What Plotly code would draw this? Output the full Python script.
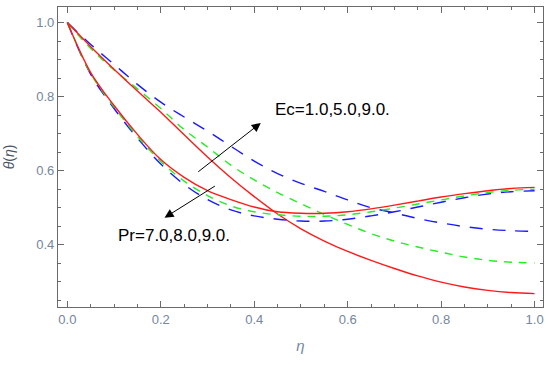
import plotly.graph_objects as go

eta = [0.0, 0.05, 0.1, 0.15, 0.2, 0.25, 0.3, 0.35, 0.4, 0.45, 0.5,
       0.55, 0.6, 0.65, 0.7, 0.75, 0.8, 0.85, 0.9, 0.95, 1.0]

# Group A (drop fast, minimum near 0.5, rise to ~0.55)
red_a = [1.0, 0.865, 0.776, 0.698, 0.630, 0.582, 0.546, 0.522, 0.502, 0.489, 0.485,
         0.485, 0.489, 0.497, 0.507, 0.518, 0.529, 0.538, 0.546, 0.552, 0.555]
green_a = [1.0, 0.862, 0.772, 0.693, 0.625, 0.572, 0.533, 0.505, 0.489, 0.481, 0.477,
           0.477, 0.481, 0.489, 0.499, 0.510, 0.521, 0.532, 0.541, 0.547, 0.550]
blue_a = [1.0, 0.860, 0.768, 0.688, 0.618, 0.563, 0.522, 0.494, 0.478, 0.469, 0.464,
          0.464, 0.469, 0.478, 0.489, 0.502, 0.515, 0.527, 0.537, 0.543, 0.546]

# Group B (slow decay, low end values)
red_b = [1.0, 0.935, 0.874, 0.815, 0.758, 0.697, 0.637, 0.581, 0.530, 0.483, 0.443,
         0.410, 0.382, 0.358, 0.336, 0.316, 0.299, 0.286, 0.277, 0.271, 0.268]
green_b = [1.0, 0.930, 0.872, 0.821, 0.768, 0.711, 0.664, 0.615, 0.575, 0.541, 0.511,
           0.482, 0.455, 0.430, 0.410, 0.394, 0.380, 0.367, 0.358, 0.353, 0.351]
blue_b = [1.0, 0.941, 0.887, 0.833, 0.785, 0.745, 0.707, 0.666, 0.626, 0.592, 0.566,
          0.544, 0.521, 0.500, 0.486, 0.471, 0.459, 0.449, 0.442, 0.438, 0.436]

RED, GREEN, BLUE = "#ff1a1a", "#22ee22", "#1a1aff"
blue_dash = "13px,10px"
green_dash = "8px,7px"

series = [
    (blue_b, BLUE, blue_dash),
    (green_b, GREEN, green_dash),
    (red_b, RED, "solid"),
    (blue_a, BLUE, blue_dash),
    (green_a, GREEN, green_dash),
    (red_a, RED, "solid"),
]

fig = go.Figure()
for ys, col, dash in series:
    fig.add_trace(go.Scatter(x=eta, y=ys, mode="lines", line_shape="spline",
                             line=dict(color=col, width=1.4, dash=dash),
                             showlegend=False, hoverinfo="skip"))

font_family = "Liberation Sans, Arial, sans-serif"
tick_color = "#7486a0"

axis_common = dict(
    showgrid=False, zeroline=False, showline=True, linecolor="#6a6a6a",
    linewidth=1.2, mirror="ticks", ticks="inside", ticklen=6, tickwidth=1,
    tickcolor="#6a6a6a", automargin=False,
    tickfont=dict(family=font_family, size=13, color=tick_color),
    minor=dict(ticks="inside", ticklen=3, tickwidth=1, tickcolor="#6a6a6a", dtick=0.05),
)

fig.update_xaxes(range=[-0.02, 1.018], tickvals=[0, 0.2, 0.4, 0.6, 0.8, 1.0],
                 ticktext=["0.0", "0.2", "0.4", "0.6", "0.8", "1.0"],
                 title=dict(text="<i>η</i>", font=dict(family=font_family, size=15, color=tick_color),
                            standoff=14),
                 **axis_common)
fig.update_yaxes(range=[0.232, 1.042], tickvals=[0.4, 0.6, 0.8, 1.0],
                 ticktext=["0.4", "0.6", "0.8", "1.0"],
                 title=dict(text="<i>θ</i>(<i>η</i>)", font=dict(family=font_family, size=14, color="#4a5568"),
                            standoff=18),
                 **axis_common)

fig.add_annotation(x=0.414, y=0.729, ax=0.277, ay=0.594, xref="x", yref="y",
                   axref="x", ayref="y", showarrow=True, arrowhead=2, arrowsize=1.8,
                   arrowwidth=1, arrowcolor="black", text="")
fig.add_annotation(x=0.208, y=0.473, ax=0.319, ay=0.561, xref="x", yref="y",
                   axref="x", ayref="y", showarrow=True, arrowhead=2, arrowsize=1.8,
                   arrowwidth=1, arrowcolor="black", text="")
fig.add_annotation(x=0.44, y=0.764, xref="x", yref="y", xanchor="left", yanchor="middle",
                   showarrow=False, text="Ec=1.0,5.0,9.0.",
                   font=dict(family=font_family, size=17, color="black"))
fig.add_annotation(x=0.105, y=0.426, xref="x", yref="y", xanchor="left", yanchor="middle",
                   showarrow=False, text="Pr=7.0,8.0,9.0.",
                   font=dict(family=font_family, size=17, color="black"))

fig.update_layout(width=550, height=365, margin=dict(l=58, r=7, t=7, b=58),
                  plot_bgcolor="white", paper_bgcolor="white")

fig.write_html("out.html", config={"displayModeBar": False},
               post_script="document.body.style.margin='0';document.body.style.padding='0';")
